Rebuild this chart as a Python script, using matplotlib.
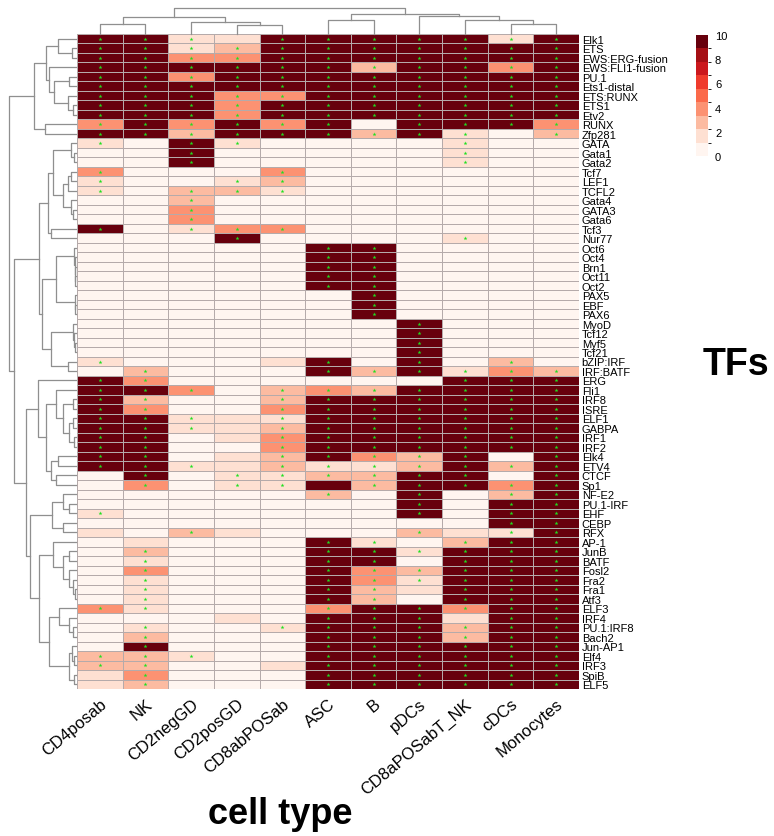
import numpy as np
import matplotlib
matplotlib.use("Agg")
import matplotlib.pyplot as plt
from matplotlib.colors import ListedColormap, BoundaryNorm
from matplotlib.colorbar import ColorbarBase

plt.rcParams['font.family'] = ['Liberation Sans', 'DejaVu Sans']

cell_types = ["CD4posab", "NK", "CD2negGD", "CD2posGD", "CD8abPOSab", "ASC", "B",
              "pDCs", "CD8aPOSabT_NK", "cDCs", "Monocytes"]

tfs = ["Elk1", "ETS", "EWS:ERG-fusion", "EWS:FLI1-fusion", "PU.1", "Ets1-distal",
       "ETS:RUNX", "ETS1", "Etv2", "RUNX", "Zfp281", "GATA", "Gata1", "Gata2", "Tcf7",
       "LEF1", "TCFL2", "Gata4", "GATA3", "Gata6", "Tcf3", "Nur77", "Oct6", "Oct4",
       "Brn1", "Oct11", "Oct2", "PAX5", "EBF", "PAX6", "MyoD", "Tcf12", "Myf5", "Tcf21",
       "bZIP:IRF", "IRF:BATF", "ERG", "Fli1", "IRF8", "ISRE", "ELF1", "GABPA", "IRF1",
       "IRF2", "Elk4", "ETV4", "CTCF", "Sp1", "NF-E2", "PU.1-IRF", "EHF", "CEBP", "RFX",
       "AP-1", "JunB", "BATF", "Fosl2", "Fra2", "Fra1", "Atf3", "ELF3", "IRF4",
       "PU.1:IRF8", "Bach2", "Jun-AP1", "Elf4", "IRF3", "SpiB", "ELF5"]

# enrichment score per TF (rows) and cell type (columns), capped at 10
scores = [
    [10, 10, 1.5, 1.5, 10, 10, 10, 10, 10, 1.5, 10],
    [10, 10, 1.5, 2.5, 10, 10, 10, 10, 10, 10, 10],
    [10, 10, 3.5, 3.5, 10, 10, 10, 10, 10, 10, 10],
    [10, 10, 10, 10, 10, 10, 2.5, 10, 10, 3.5, 10],
    [10, 10, 3.5, 10, 10, 10, 10, 10, 10, 10, 10],
    [10, 10, 10, 10, 10, 10, 10, 10, 10, 10, 10],
    [10, 10, 10, 3.5, 3.5, 10, 10, 10, 10, 10, 10],
    [10, 10, 10, 3.5, 10, 10, 10, 10, 10, 10, 10],
    [10, 10, 10, 3.5, 10, 10, 10, 10, 10, 10, 10],
    [3.5, 10, 3.5, 10, 3.5, 10, 0, 10, 10, 10, 3.5],
    [10, 10, 2.5, 10, 10, 10, 2.5, 10, 1.5, 0, 2.5],
    [1.5, 0, 10, 1.5, 0, 0, 0, 0, 1.5, 0, 0],
    [0, 0, 10, 0, 0, 0, 0, 0, 1.5, 0, 0],
    [0, 0, 10, 0, 0, 0, 0, 0, 1.5, 0, 0],
    [3.5, 0, 0, 0, 3.5, 0, 0, 0, 0, 0, 0],
    [1.5, 0, 0, 1.5, 2.5, 0, 0, 0, 0, 0, 0],
    [1.5, 0, 2.5, 2.5, 1.5, 0, 0, 0, 0, 0, 0],
    [0, 0, 2.5, 0, 0, 0, 0, 0, 0, 0, 0],
    [0, 0, 3.5, 0, 0, 0, 0, 0, 0, 0, 0],
    [0, 0, 3.5, 0, 0, 0, 0, 0, 0, 0, 0],
    [10, 0, 1.5, 3.5, 3.5, 0, 0, 0, 0, 0, 0],
    [0, 0, 0, 10, 0, 0, 0, 0, 1.5, 0, 0],
    [0, 0, 0, 0, 0, 10, 10, 0, 0, 0, 0],
    [0, 0, 0, 0, 0, 10, 10, 0, 0, 0, 0],
    [0, 0, 0, 0, 0, 10, 10, 0, 0, 0, 0],
    [0, 0, 0, 0, 0, 10, 10, 0, 0, 0, 0],
    [0, 0, 0, 0, 0, 10, 10, 0, 0, 0, 0],
    [0, 0, 0, 0, 0, 0, 10, 0, 0, 0, 0],
    [0, 0, 0, 0, 0, 0, 10, 0, 0, 0, 0],
    [0, 0, 0, 0, 0, 0, 10, 0, 0, 0, 0],
    [0, 0, 0, 0, 0, 0, 0, 10, 0, 0, 0],
    [0, 0, 0, 0, 0, 0, 0, 10, 0, 0, 0],
    [0, 0, 0, 0, 0, 0, 0, 10, 0, 0, 0],
    [0, 0, 0, 0, 0, 0, 0, 10, 0, 0, 0],
    [1.5, 0, 0, 0, 1.5, 10, 0, 10, 0, 2.5, 0],
    [0, 2.5, 0, 0, 0, 10, 2.5, 10, 1.5, 3.5, 2.5],
    [10, 3.5, 0, 0, 0, 0, 0, 0, 10, 10, 10],
    [10, 10, 3.5, 0, 2.5, 3.5, 2.5, 10, 10, 10, 10],
    [10, 2.5, 0, 0, 2.5, 10, 10, 10, 10, 10, 10],
    [10, 3.5, 0, 0, 3.5, 10, 10, 10, 10, 10, 10],
    [10, 10, 1.5, 1.5, 1.5, 10, 10, 10, 10, 10, 10],
    [10, 10, 1.5, 1.5, 2.5, 10, 10, 10, 10, 10, 10],
    [10, 10, 0, 1.5, 3.5, 10, 10, 10, 10, 10, 10],
    [10, 10, 0, 0, 3.5, 10, 10, 10, 10, 10, 10],
    [10, 10, 0, 1.5, 2.5, 10, 3.5, 2.5, 10, 0, 10],
    [10, 10, 1.5, 1.5, 2.5, 1.5, 1.5, 2.5, 10, 2.5, 10],
    [0, 10, 0, 1.5, 1.5, 2.5, 2.5, 10, 10, 0, 10],
    [0, 3.5, 0, 1.5, 1.5, 10, 2.5, 10, 10, 3.5, 10],
    [0, 0, 0, 0, 0, 2.5, 0, 10, 0, 2.5, 10],
    [0, 0, 0, 0, 0, 0, 0, 10, 0, 10, 10],
    [1.5, 0, 0, 0, 0, 0, 0, 10, 0, 10, 10],
    [0, 0, 0, 0, 0, 0, 0, 0, 0, 10, 10],
    [1.5, 0, 2.5, 1.5, 0, 0, 0, 2.5, 1.5, 1.5, 10],
    [0, 1.5, 0, 0, 0, 10, 1.5, 0, 2.5, 10, 10],
    [0, 2.5, 0, 0, 0, 10, 10, 1.5, 10, 10, 10],
    [0, 1.5, 0, 0, 0, 10, 10, 0, 10, 10, 10],
    [0, 3.5, 0, 0, 0, 10, 3.5, 2.5, 10, 10, 10],
    [0, 1.5, 0, 0, 0, 10, 3.5, 1.5, 10, 10, 10],
    [0, 1.5, 0, 0, 0, 10, 2.5, 1.5, 10, 10, 10],
    [0, 1.5, 0, 0, 0, 10, 2.5, 0, 10, 10, 10],
    [3.5, 1.5, 0, 0, 0, 3.5, 10, 10, 3.5, 10, 10],
    [0, 0, 0, 1.5, 0, 10, 10, 10, 1.5, 10, 10],
    [0, 1.5, 0, 0, 1.5, 10, 10, 10, 2.5, 10, 10],
    [0, 2.5, 0, 0, 0, 10, 10, 10, 2.5, 10, 10],
    [0, 10, 0, 0, 0, 10, 10, 10, 10, 10, 10],
    [2.5, 2.5, 1.5, 0, 0, 10, 10, 10, 10, 10, 10],
    [2.5, 2.5, 0, 0, 1.5, 10, 10, 10, 10, 10, 10],
    [1.5, 3.5, 0, 0, 0, 10, 10, 10, 10, 10, 10],
    [1.5, 2.5, 0, 0, 0, 10, 10, 10, 10, 10, 10],
]

# significant cells (1 = marked with a star)
signif = [
    "11101111111", "11111111111", "11111111111", "11111111111", "11111111111",
    "11111111111", "11111111111", "11111111111", "11111111111", "11111101111",
    "11111111101", "10110000100", "00100000100", "00100000100", "10001000000",
    "10011000000", "10111000000", "00100000000", "00100000000", "00100000000",
    "10111000000", "00010000100", "00000110000", "00000110000", "00000110000",
    "00000110000", "00000110000", "00000010000", "00000010000", "00000010000",
    "00000001000", "00000001000", "00000001000", "00000001000", "10000101010",
    "01000111111", "11000000111", "11101111111", "11001111111", "11001111111",
    "11101111111", "11101111111", "11001111111", "11001111111", "11001111101",
    "11101111111", "01011111101", "01011011111", "00000101011", "00000001011",
    "10000001011", "00000000011", "00100001011", "00000110111", "01000111111",
    "01000110111", "01000111111", "01000111111", "01000110111", "01000110111",
    "11000111111", "00000111011", "01001111111", "01000111111", "01000111111",
    "11100111111", "11000111111", "01000111111", "01000111111",
]

# clustering trees: [left, right, merge height], leaves are row/column indices
col_tree = [[[0, 1, 0.39], [2, [3, 4, 0.35], 0.45], 0.65],
            [[5, 6, 0.55], [7, [8, [9, 10, 0.39], 0.53], 0.71], 0.78], 1.0]

A1 = [[0, [1, 2, 0.06], 0.27], [3, [[4, 5, 0.1], [6, [7, 8, 0.05], 0.12], 0.33], 0.41], 0.455]
A = [A1, [9, 10, 0.47], 0.62]
B1 = [11, [12, 13, 0.03], 0.07]
B2 = [[[14, 15, 0.08], 16, 0.12], [17, [18, 19, 0.04], 0.08], 0.2]
B = [[B1, B2, 0.34], [20, 21, 0.38], 0.42]
octs = [22, [23, [24, [25, 26, 0.01], 0.015], 0.02], 0.03]
pax = [27, [28, 29, 0.01], 0.02]
myo = [30, [31, [32, 33, 0.02], 0.03], 0.05]
C = [[octs, pax, 0.3], [myo, [34, 35, 0.12], 0.37], 0.5]
E = [[37, [[38, 39, 0.05], [[40, 41, 0.04], [42, 43, 0.03], 0.1], 0.2], 0.3],
     [[44, 45, 0.27], [46, 47, 0.3], 0.38], 0.45]
D1 = [36, E, 0.57]
F = [[48, [49, 50, 0.1], 0.2], [51, 52, 0.2], 0.36]
G = [53, [[54, 55, 0.1], [56, [57, [58, 59, 0.02], 0.05], 0.1], 0.2], 0.35]
Hc = [[60, [61, [62, 63, 0.05], 0.1], 0.25], [[64, [65, 66, 0.03], 0.06], [67, 68, 0.03], 0.1], 0.4]
D = [D1, [F, [G, Hc, 0.55], 0.68], 0.75]
row_tree = [A, [[B, C, 0.55], D, 0.92], 1.0]

reds = ['#FFF5F0', '#FEE0D2', '#FCBBA1', '#FC9272', '#FB6A4A',
        '#EF3B2C', '#CB181D', '#A50F15', '#67000D']
bounds = np.linspace(0, 10, 10)
cmap = ListedColormap(reds)
norm = BoundaryNorm(bounds, cmap.N)

W, H = 774, 837
fig = plt.figure(figsize=(W / 100, H / 100), dpi=100)


def px_axes(x0, y0, x1, y1):
    return fig.add_axes([x0 / W, 1 - y1 / H, (x1 - x0) / W, (y1 - y0) / H])


def draw_tree(ax, node, rows):
    if isinstance(node, int):
        return node + 0.5, 0.0
    left, right, h = node
    pl, hl = draw_tree(ax, left, rows)
    pr, hr = draw_tree(ax, right, rows)
    if rows:
        ax.plot([hl, h, h, hr], [pl, pl, pr, pr], color='#8f8f8f', lw=0.9, clip_on=False)
    else:
        ax.plot([pl, pl, pr, pr], [hl, h, h, hr], color='#8f8f8f', lw=0.9, clip_on=False)
    return (pl + pr) / 2, h


mat = np.array(scores)
n_rows, n_cols = mat.shape

# heatmap
heat = px_axes(77, 35, 579, 690)
heat.pcolormesh(mat, cmap=cmap, norm=norm, edgecolors='#b5aaaa', linewidth=0.5)
stars = np.array([[c == '1' for c in s] for s in signif])
ys, xs = np.nonzero(stars)
heat.scatter(xs + 0.5, ys + 0.5, marker='*', s=9, color='#1fe01f', linewidths=0, zorder=3)
heat.set_xlim(0, n_cols)
heat.set_ylim(n_rows, 0)
heat.yaxis.tick_right()
heat.set_yticks(np.arange(n_rows) + 0.5)
heat.set_yticklabels(tfs)
heat.set_xticks(np.arange(n_cols) + 0.5)
heat.set_xticklabels(cell_types, rotation=40, ha='right', va='top', rotation_mode='anchor')
heat.tick_params(axis='y', length=0, pad=2, labelsize=8)
heat.tick_params(axis='x', length=0, pad=5, labelsize=12)
for sp in heat.spines.values():
    sp.set_visible(False)

# row dendrogram
rax = px_axes(9, 35, 76, 690)
draw_tree(rax, row_tree, True)
rax.set_xlim(1, 0)
rax.set_ylim(n_rows, 0)
rax.axis('off')

# column dendrogram
cax_d = px_axes(77, 9, 579, 35)
draw_tree(cax_d, col_tree, False)
cax_d.set_xlim(0, n_cols)
cax_d.set_ylim(0, 1)
cax_d.axis('off')

# legend
lax = px_axes(696, 36, 708, 157)
cb = ColorbarBase(lax, cmap=cmap, norm=norm, boundaries=bounds,
                  ticks=[0, 2, 4, 6, 8, 10], spacing='proportional')
cb.outline.set_visible(False)
lax.tick_params(length=0, labelsize=8, pad=5)

fig.text(736 / W, 1 - 365 / H, 'TFs', fontsize=27, fontweight='bold', ha='center', va='center')
fig.text(280 / W, 1 - 815 / H, 'cell type', fontsize=26, fontweight='bold', ha='center', va='center')

fig.savefig('out.png', dpi=100)
